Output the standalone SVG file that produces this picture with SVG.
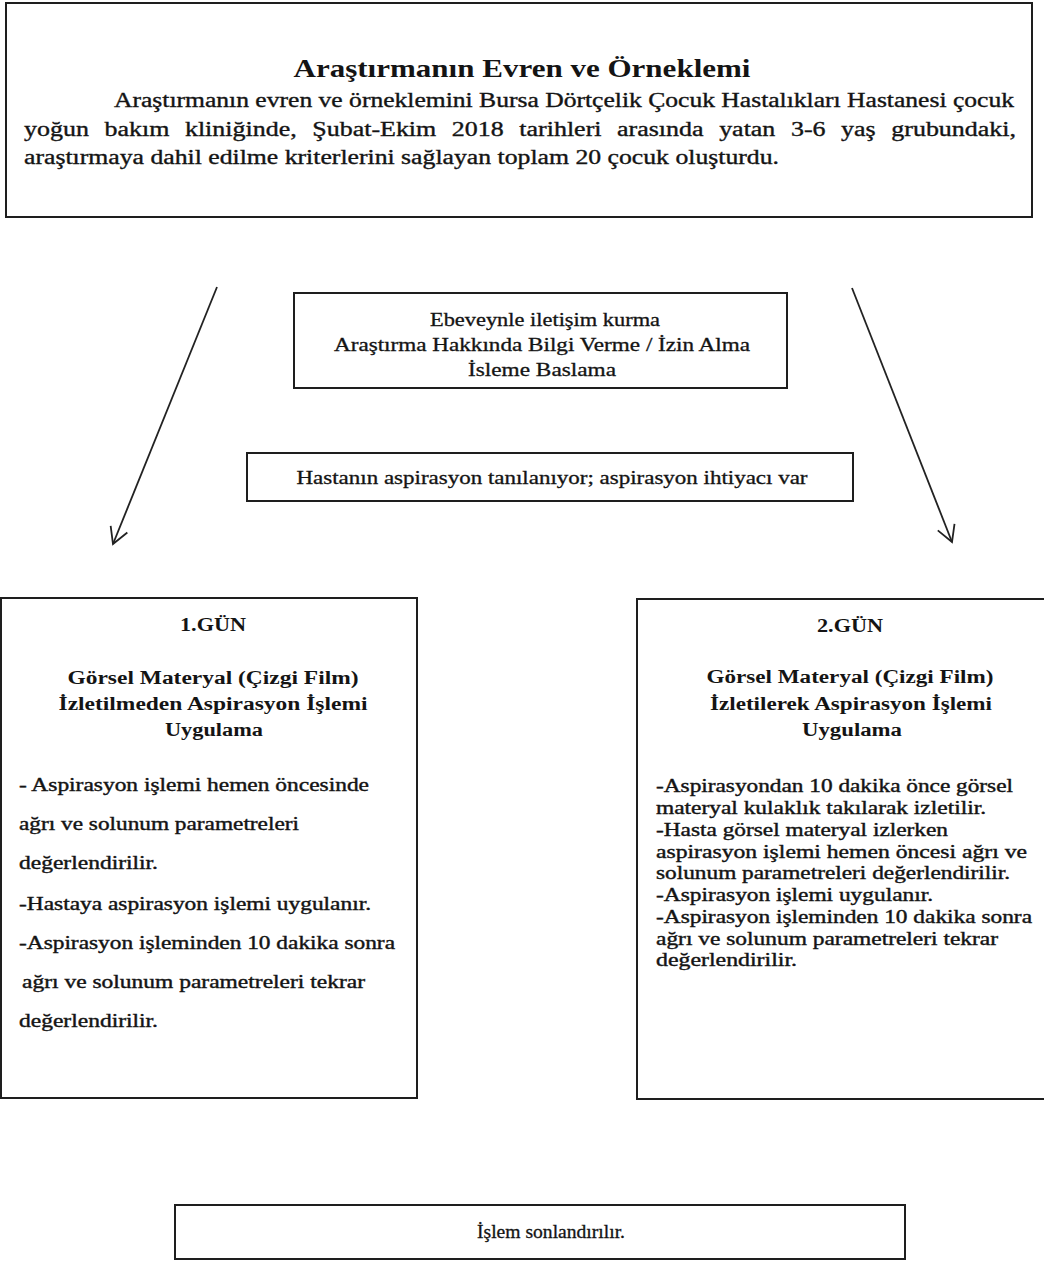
<svg xmlns="http://www.w3.org/2000/svg" width="1044" height="1261" viewBox="0 0 1044 1261">
<style>
  .box{fill:#fff;stroke:#1e1e1e;stroke-width:2}
  .t{font-family:"Liberation Serif","Times New Roman",serif;fill:#141414}
  .title{font-size:26px;font-weight:bold}
  .p{font-size:20px;stroke:#141414;stroke-width:0.35}
  .m{font-size:18px;stroke:#141414;stroke-width:0.3}
  .h{font-size:18px;font-weight:bold}
  .b{font-size:18px;stroke:#141414;stroke-width:0.4}
  .c{text-anchor:middle}
  .conn{stroke:#222;stroke-width:1.8;fill:none}
</style>
<defs>
  <marker id="ah" markerUnits="userSpaceOnUse" markerWidth="40" markerHeight="40" viewBox="-20 -20 40 40" refX="0" refY="0" orient="auto" overflow="visible">
    <path d="M-16,-9 L0,0 L-16,9" fill="none" stroke="#222" stroke-width="1.8"/>
  </marker>
</defs>
<rect width="1044" height="1261" fill="#fff"/>

<g id="connectors">
  <line class="conn" x1="217" y1="287" x2="113" y2="544" marker-end="url(#ah)"/>
  <line class="conn" x1="852" y1="288" x2="952" y2="542" marker-end="url(#ah)"/>
</g>

<g id="node-evren">
  <rect class="box" x="6" y="3" width="1026" height="214"/>
  <text class="t title c" x="522" y="77" textLength="457" lengthAdjust="spacingAndGlyphs">Araştırmanın Evren ve Örneklemi</text>
  <text class="t p" x="114" y="107" textLength="900" lengthAdjust="spacingAndGlyphs">Araştırmanın evren ve örneklemini  Bursa Dörtçelik Çocuk Hastalıkları Hastanesi çocuk</text>
  <text class="t p" x="24" y="136" textLength="992" lengthAdjust="spacingAndGlyphs" word-spacing="7">yoğun bakım kliniğinde, Şubat-Ekim 2018 tarihleri arasında yatan  3-6 yaş grubundaki,</text>
  <text class="t p" x="24" y="164" textLength="755" lengthAdjust="spacingAndGlyphs">araştırmaya dahil edilme kriterlerini sağlayan toplam 20  çocuk oluşturdu.</text>
</g>

<g id="node-ebeveyn">
  <rect class="box" x="294" y="293" width="493" height="95"/>
  <text class="t m c" x="545" y="326" textLength="230" lengthAdjust="spacingAndGlyphs">Ebeveynle iletişim kurma</text>
  <text class="t m c" x="542" y="351" textLength="416" lengthAdjust="spacingAndGlyphs">Araştırma Hakkında Bilgi Verme / İzin Alma</text>
  <text class="t m c" x="542" y="376" textLength="148" lengthAdjust="spacingAndGlyphs">İsleme Baslama</text>
</g>

<g id="node-tani">
  <rect class="box" x="247" y="453" width="606" height="48"/>
  <text class="t m c" x="552" y="484" textLength="511" lengthAdjust="spacingAndGlyphs">Hastanın aspirasyon tanılanıyor; aspirasyon ihtiyacı var</text>
</g>

<g id="node-gun1">
  <rect class="box" x="1" y="598" width="416" height="500"/>
  <text class="t h c" x="213" y="631" textLength="66" lengthAdjust="spacingAndGlyphs">1.GÜN</text>
  <text class="t h c" x="213" y="684" textLength="291" lengthAdjust="spacingAndGlyphs">Görsel Materyal (Çizgi Film)</text>
  <text class="t h c" x="213" y="710" textLength="309" lengthAdjust="spacingAndGlyphs">İzletilmeden Aspirasyon İşlemi</text>
  <text class="t h c" x="214" y="736" textLength="98" lengthAdjust="spacingAndGlyphs">Uygulama</text>
  <text class="t b" x="19" y="791" textLength="350" lengthAdjust="spacingAndGlyphs">- Aspirasyon işlemi hemen öncesinde</text>
  <text class="t b" x="19" y="830" textLength="280" lengthAdjust="spacingAndGlyphs">ağrı ve solunum parametreleri</text>
  <text class="t b" x="19" y="869" textLength="139" lengthAdjust="spacingAndGlyphs">değerlendirilir.</text>
  <text class="t b" x="19" y="910" textLength="352" lengthAdjust="spacingAndGlyphs">-Hastaya aspirasyon işlemi uygulanır.</text>
  <text class="t b" x="19" y="949" textLength="376" lengthAdjust="spacingAndGlyphs">-Aspirasyon işleminden 10 dakika sonra</text>
  <text class="t b" x="22" y="988" textLength="343" lengthAdjust="spacingAndGlyphs">ağrı ve solunum parametreleri tekrar</text>
  <text class="t b" x="19" y="1027" textLength="139" lengthAdjust="spacingAndGlyphs">değerlendirilir.</text>
</g>

<g id="node-gun2">
  <rect class="box" x="637" y="599" width="412" height="500"/>
  <text class="t h c" x="850" y="632" textLength="66" lengthAdjust="spacingAndGlyphs">2.GÜN</text>
  <text class="t h c" x="850" y="683" textLength="287" lengthAdjust="spacingAndGlyphs">Görsel Materyal (Çizgi Film)</text>
  <text class="t h c" x="851" y="710" textLength="282" lengthAdjust="spacingAndGlyphs">İzletilerek Aspirasyon İşlemi</text>
  <text class="t h c" x="852" y="736" textLength="100" lengthAdjust="spacingAndGlyphs">Uygulama</text>
  <text class="t b" x="656" y="792" textLength="357" lengthAdjust="spacingAndGlyphs">-Aspirasyondan 10 dakika önce görsel</text>
  <text class="t b" x="656" y="814" textLength="330" lengthAdjust="spacingAndGlyphs">materyal kulaklık takılarak izletilir.</text>
  <text class="t b" x="656" y="835.5" textLength="292" lengthAdjust="spacingAndGlyphs">-Hasta görsel materyal izlerken</text>
  <text class="t b" x="656" y="857.5" textLength="371" lengthAdjust="spacingAndGlyphs">aspirasyon işlemi  hemen öncesi ağrı ve</text>
  <text class="t b" x="656" y="879" textLength="354" lengthAdjust="spacingAndGlyphs">solunum parametreleri değerlendirilir.</text>
  <text class="t b" x="656" y="901" textLength="277" lengthAdjust="spacingAndGlyphs">-Aspirasyon işlemi uygulanır.</text>
  <text class="t b" x="656" y="923" textLength="376" lengthAdjust="spacingAndGlyphs">-Aspirasyon işleminden 10 dakika sonra</text>
  <text class="t b" x="656" y="944.5" textLength="342" lengthAdjust="spacingAndGlyphs">ağrı ve solunum parametreleri tekrar</text>
  <text class="t b" x="656" y="966" textLength="141" lengthAdjust="spacingAndGlyphs">değerlendirilir.</text>
</g>

<g id="node-son">
  <rect class="box" x="175" y="1205" width="730" height="54"/>
  <text class="t m c" x="551" y="1238" textLength="148" lengthAdjust="spacingAndGlyphs">İşlem sonlandırılır.</text>
</g>
</svg>
